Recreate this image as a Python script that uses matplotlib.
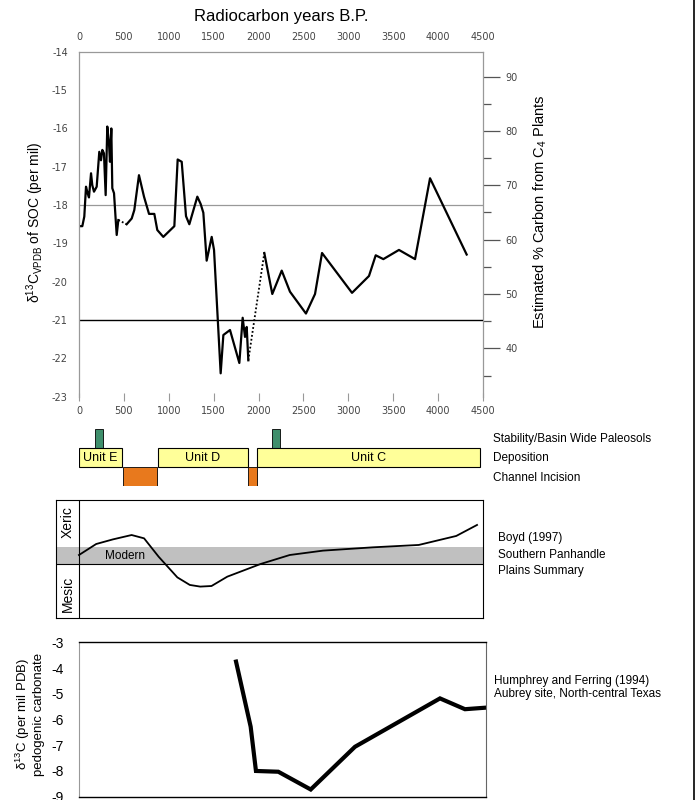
import matplotlib.pyplot as plt
from matplotlib.lines import Line2D
import numpy as np

plt.rcParams['font.family'] = ['Liberation Sans', 'DejaVu Sans']
plt.rcParams['mathtext.default'] = 'regular'
plt.rcParams['axes.unicode_minus'] = False

# SOC isotope record (radiocarbon yr B.P. / d13C per mil)
soc_years = [0, 37, 59, 78, 97, 111, 134, 148, 167, 197, 226, 245, 260, 278, 297,
             315, 334, 345, 360, 371, 390, 409, 420, 438, 531, 587, 616, 668, 724,
             780, 839, 872, 939, 1062, 1099, 1144, 1192, 1229, 1318, 1355, 1385,
             1422, 1478, 1504, 1578, 1608, 1682, 1786, 1823, 1849, 1868, 1886,
             2064, 2153, 2258, 2350, 2528, 2629, 2707, 3041, 3230, 3305, 3390,
             3564, 3743, 3910, 4318]
soc_d13c = [-18.55, -18.55, -18.3, -17.52, -17.7, -17.8, -17.17, -17.48, -17.65,
            -17.52, -16.61, -16.83, -16.56, -16.65, -17.74, -15.95, -16.39, -16.87,
            -16.0, -17.56, -17.69, -18.39, -18.78, -18.39, -18.5, -18.35, -18.13,
            -17.22, -17.78, -18.23, -18.23, -18.65, -18.83, -18.55, -16.81, -16.87,
            -18.29, -18.5, -17.78, -17.97, -18.2, -19.45, -18.83, -19.17, -22.39,
            -21.39, -21.26, -22.12, -20.94, -21.44, -21.18, -22.05, -19.25, -20.32,
            -19.71, -20.26, -20.83, -20.32, -19.25, -20.29, -19.85, -19.31, -19.41,
            -19.17, -19.41, -17.3, -19.29]
gap_starts = [438, 1886]   # dotted (no data) segments start here

# stratigraphy
unit_names = ['Unit E', 'Unit D', 'Unit C']
unit_start = [0, 880, 1980]
unit_end = [480, 1880, 4470]
incision_start = [490, 1886]
incision_end = [870, 1980]
paleosol_start = [180, 2146]
paleosol_end = [270, 2243]

# Boyd (1997) summary curve (relative index, 0 = mesic, 10 = xeric)
boyd_years = [0, 192, 378, 587, 726, 888, 1097, 1236, 1352, 1478, 1654, 2025,
              2350, 2721, 3278, 3789, 4207, 4439]
boyd_index = [5.35, 6.28, 6.67, 7.04, 6.76, 5.21, 3.46, 2.82, 2.68, 2.73, 3.52,
              4.59, 5.35, 5.72, 6.0, 6.2, 6.96, 7.89]
modern_low, modern_high = 4.59, 6.0

# Humphrey and Ferring (1994)
hf_years = [1749, 1912, 1971, 2220, 2581, 3074, 4021, 4299, 4530]
hf_d13c = [-3.75, -6.28, -8.0, -8.03, -8.72, -7.06, -5.18, -5.6, -5.54]

W, H = 696, 800
GRAY = '#999999'


def box(x0, y0, x1, y1):
    return [x0 / W, 1 - y1 / H, (x1 - x0) / W, (y1 - y0) / H]


def to_pct(d):
    return 50 + (d + 20.32) / 0.1418


def to_d13c(p):
    return -20.32 + (p - 50) * 0.1418


fig = plt.figure(figsize=(W / 100, H / 100), dpi=100)

# ---- top panel
ax = fig.add_axes(box(79, 51.8, 483, 396.7))
ax.set_xlim(0, 4500)
ax.set_ylim(-23, -14)
ax.set_xticks(range(0, 4501, 500))
ax.set_yticks(range(-23, -13))
ax.axhline(-18, color=GRAY, lw=0.9)
ax.axhline(-21, color='black', lw=1.0)

yrs = np.array(soc_years)
vals = np.array(soc_d13c)
start = 0
for g in gap_starts:
    b = soc_years.index(g)
    ax.plot(yrs[start:b + 1], vals[start:b + 1], color='black', lw=1.6)
    ax.plot(yrs[b:b + 2], vals[b:b + 2], color='black', lw=1.3, ls=(0, (1, 1.2)))
    start = b + 1
ax.plot(yrs[start:], vals[start:], color='black', lw=1.6)

for s in ['left', 'top']:
    ax.spines[s].set_color(GRAY)
    ax.spines[s].set_linewidth(0.9)
ax.spines['bottom'].set_visible(False)
ax.spines['right'].set_visible(False)
ax.tick_params(axis='x', top=False, labeltop=True, direction='inout', length=6,
               color=GRAY, labelsize=7, labelcolor='#444444', pad=4)
ax.tick_params(axis='y', length=0, pad=8, labelsize=7, labelcolor='#444444')
for lab in ax.get_xticklabels() + ax.get_yticklabels():
    lab.set_family('DejaVu Sans')

sec = ax.secondary_yaxis('right', functions=(to_pct, to_d13c))
sec.set_yticks(range(40, 91, 10))
sec.set_yticks(range(35, 90, 10), minor=True)
sec.tick_params(which='major', length=12, width=0.9, color='#555555', pad=4,
                labelsize=7, labelcolor='#444444')
sec.tick_params(which='minor', length=6, width=0.9, color='#555555')
sec.spines['right'].set_color(GRAY)
sec.spines['right'].set_linewidth(0.9)
for lab in sec.get_yticklabels():
    lab.set_family('DejaVu Sans')

fig.text(281 / W, 1 - 16 / H, 'Radiocarbon years B.P.', ha='center', va='center', size=12)
fig.text(35 / W, 1 - 222 / H, r'δ$^{13}$C$_{VPDB}$ of SOC (per mil)', rotation=90,
         ha='center', va='center', size=10)
fig.text(540 / W, 1 - 212 / H, r'Estimated % Carbon from C$_4$ Plants', rotation=90,
         ha='center', va='center', size=10.5)

# ---- stratigraphy
ax2 = fig.add_axes(box(79, 429.3, 483, 486))
ax2.set_xlim(0, 4500)
ax2.set_ylim(0, 3)
ax2.axis('off')
ax2.barh(2.5, np.subtract(paleosol_end, paleosol_start), left=paleosol_start, height=1,
         color='#3f8f6c', edgecolor='black', lw=0.6)
ax2.barh(1.5, np.subtract(unit_end, unit_start), left=unit_start, height=1,
         color='#ffff99', edgecolor='black', lw=0.8)
ax2.barh(0.5, np.subtract(incision_end, incision_start), left=incision_start, height=1,
         color='#e8791d', edgecolor='black', lw=0.6)
for name, a, b in zip(unit_names, unit_start, unit_end):
    ax2.text((a + b) / 2, 1.5, name, ha='center', va='center', size=9)

fig.text(493 / W, 1 - 439 / H, 'Stability/Basin Wide Paleosols', va='center', size=8.5)
fig.text(493 / W, 1 - 458 / H, 'Deposition', va='center', size=8.5)
fig.text(493 / W, 1 - 478 / H, 'Channel Incision', va='center', size=8.5)

# ---- Boyd summary
strip = (79 - 55.8) * 4500 / 404
ax3 = fig.add_axes(box(55.8, 500, 482.5, 618.3))
ax3.set_xlim(-strip, 4500)
ax3.set_ylim(0, 10)
ax3.axhspan(modern_low, modern_high, color='#c0c0c0', lw=0)
ax3.axhline(modern_low, color='black', lw=0.8)
ax3.axvline(0, color='black', lw=0.8)
ax3.plot(boyd_years, boyd_index, color='black', lw=1.3)
ax3.text(-strip / 2, 8.1, 'Xeric', rotation=90, ha='center', va='center', size=10)
ax3.text(-strip / 2, 2.1, 'Mesic', rotation=90, ha='center', va='center', size=10)
ax3.text(512, 5.25, 'Modern', ha='center', va='center', size=8.5)
ax3.set_xticks([])
ax3.set_yticks([])
for s in ax3.spines.values():
    s.set_linewidth(0.8)

fig.text(498 / W, 1 - 538 / H, 'Boyd (1997)', va='center', size=8.5)
fig.text(498 / W, 1 - 555 / H, 'Southern Panhandle', va='center', size=8.5)
fig.text(498 / W, 1 - 571 / H, 'Plains Summary', va='center', size=8.5)

# ---- Humphrey and Ferring
ax4 = fig.add_axes(box(79, 642.3, 485.7, 796.7))
ax4.set_xlim(0, 4530)
ax4.set_ylim(-9, -3)
ax4.set_yticks(range(-9, -2))
ax4.set_xticks([])
ax4.plot(hf_years, hf_d13c, color='black', lw=3, solid_joinstyle='miter')
ax4.tick_params(axis='y', length=0, pad=11, labelsize=10)
ax4.spines['top'].set_linewidth(1.0)
ax4.spines['bottom'].set_linewidth(1.0)
ax4.spines['left'].set_color(GRAY)
ax4.spines['right'].set_color('#666666')

fig.text(29 / W, 1 - 714 / H, 'δ$^{13}$C (per mil PDB)\npedogenic carbonate', rotation=90,
         ha='center', va='center', size=9.5, linespacing=1.1)
fig.text(494 / W, 1 - 681 / H, 'Humphrey and Ferring (1994)', va='center', size=8.5)
fig.text(494 / W, 1 - 694 / H, 'Aubrey site, North-central Texas', va='center', size=8.5)

fig.add_artist(Line2D([694 / W, 694 / W], [0, 1], color='black', lw=1.2))

fig.savefig('out.png', dpi=100)
